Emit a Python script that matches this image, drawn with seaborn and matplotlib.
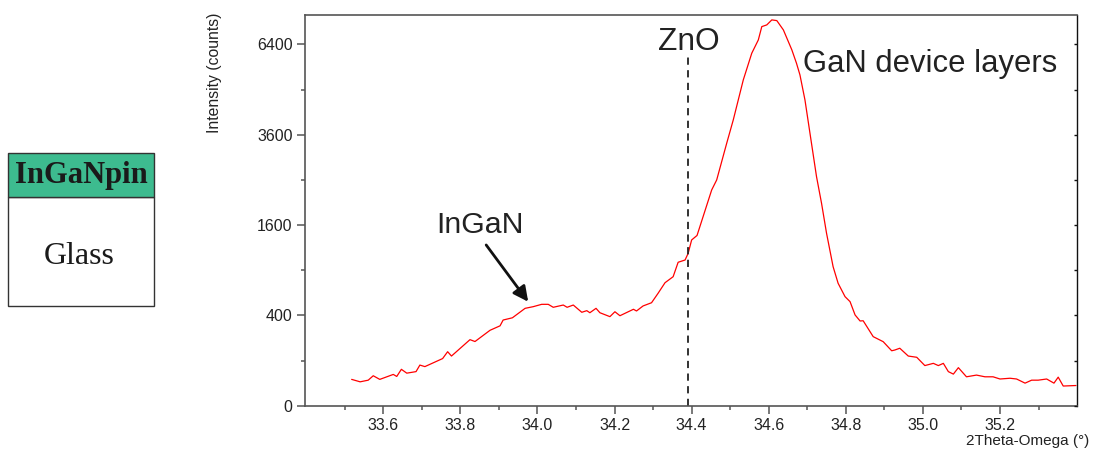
import numpy as np
import pandas as pd
import matplotlib
matplotlib.use("Agg")
import matplotlib.pyplot as plt
from matplotlib.patches import Rectangle
import seaborn as sns

# 2Theta-Omega scan (degrees) and measured intensity (counts)
two_theta = [
    33.518, 33.540, 33.561, 33.574, 33.591, 33.626, 33.635, 33.647, 33.661, 33.685,
    33.695, 33.708, 33.754, 33.767, 33.777, 33.825, 33.838, 33.857, 33.877, 33.903,
    33.911, 33.935, 33.968, 33.989, 34.011, 34.028, 34.041, 34.067, 34.077, 34.093,
    34.115, 34.128, 34.136, 34.152, 34.162, 34.188, 34.201, 34.214, 34.249, 34.257,
    34.274, 34.296, 34.313, 34.331, 34.352, 34.365, 34.383, 34.391, 34.400, 34.414,
    34.452, 34.465, 34.491, 34.508, 34.534, 34.556, 34.573, 34.582, 34.595, 34.608,
    34.621, 34.638, 34.660, 34.672, 34.681, 34.694, 34.707, 34.724, 34.737, 34.750,
    34.767, 34.780, 34.798, 34.811, 34.824, 34.837, 34.845, 34.871, 34.897, 34.919,
    34.927, 34.940, 34.962, 34.984, 35.005, 35.027, 35.040, 35.053, 35.066, 35.079,
    35.092, 35.113, 35.139, 35.161, 35.182, 35.200, 35.226, 35.243, 35.265, 35.282,
    35.299, 35.321, 35.340, 35.351, 35.364, 35.397,
]
intensity = [
    34, 28, 32, 44, 34, 48, 42, 65, 52, 57,
    81, 75, 109, 143, 121, 214, 202, 238, 279, 313,
    360, 379, 465, 481, 504, 504, 475, 497, 475, 497,
    428, 443, 424, 465, 424, 389, 433, 397, 456, 440,
    488, 520, 620, 742, 816, 1009, 1041, 1139, 1347, 1421,
    2282, 2499, 3378, 4004, 5204, 6092, 6560, 7046, 7110, 7298,
    7271, 6924, 6207, 5751, 5365, 4584, 3640, 2572, 2010, 1458,
    948, 735, 583, 531, 404, 352, 354, 234, 201, 148,
    152, 162, 121, 115, 79, 88, 79, 88, 57, 49,
    71, 41, 46, 41, 41, 35, 37, 35, 25, 32,
    32, 35, 25, 40, 19, 20,
]

y_ticks = [0, 400, 1600, 3600, 6400]
y_minor = [100, 900, 2500, 4900]
x_ticks = [33.6, 33.8, 34.0, 34.2, 34.4, 34.6, 34.8, 35.0, 35.2]
x_minor = [33.5, 33.7, 33.9, 34.1, 34.3, 34.5, 34.7, 34.9, 35.1, 35.3]
zno_position = 34.391

df = pd.DataFrame({"two_theta": two_theta, "intensity": intensity})

sns.set_style("white")
plt.rcParams.update({
    "font.family": ["Liberation Sans", "DejaVu Sans"],
    "xtick.bottom": True, "xtick.top": False,
    "ytick.left": True, "ytick.right": False,
    "xtick.direction": "out", "ytick.direction": "out",
    "xtick.major.size": 6, "ytick.major.size": 6,
    "xtick.minor.size": 3, "ytick.minor.size": 3,
    "xtick.major.width": 1.1, "ytick.major.width": 1.1,
    "xtick.minor.width": 1.1, "ytick.minor.width": 1.1,
    "xtick.color": "#555555", "ytick.color": "#555555",
    "xtick.labelcolor": "#222222", "ytick.labelcolor": "#222222",
    "xtick.labelsize": 11.5, "ytick.labelsize": 11.5,
    "xtick.major.pad": 3, "ytick.major.pad": 3,
})

fig = plt.figure(figsize=(10.94, 4.5), dpi=100)
ax = fig.add_axes([0.2788, 0.0984, 0.7054, 0.8683])

sns.lineplot(data=df, x="two_theta", y="intensity", ax=ax,
             color="#ff0000", linewidth=0.9)

sqrt_scale = (lambda v: np.sqrt(np.clip(v, 0, None)), lambda s: s ** 2)
ax.set_yscale("function", functions=sqrt_scale)
ax.set_xlim(33.397, 35.399)
ax.set_ylim(0, 7485)

ax.set_yticks(y_ticks)
ax.set_yticklabels([str(t) for t in y_ticks])
ax.set_yticks(y_minor, minor=True)
ax.set_xticks(x_ticks)
ax.set_xticklabels([f"{t:.1f}" for t in x_ticks])
ax.set_xticks(x_minor, minor=True)

# small inward ticks along the right frame
ax_r = ax.twinx()
ax_r.set_yscale("function", functions=sqrt_scale)
ax_r.set_ylim(ax.get_ylim())
ax_r.set_yticks(y_ticks + y_minor)
ax_r.tick_params(axis="y", which="both", left=False, right=True, direction="in",
                 length=2.5, width=1, color="#111111", labelright=False)
ax_r.grid(False)
for side in ["left", "bottom", "top", "right"]:
    ax_r.spines[side].set_visible(False)

for side in ["left", "bottom", "top"]:
    ax.spines[side].set_color("#555555")
    ax.spines[side].set_linewidth(1.2)
ax.spines["right"].set_color("#111111")
ax.spines["right"].set_linewidth(1.0)

ax.set_xlabel("")
ax.set_ylabel("Intensity (counts)", fontsize=11.3, color="#222222")
ax.yaxis.set_label_coords(-0.1076, 0.8516)
fig.text(0.9955, 0.004, "2Theta-Omega (°)", ha="right", va="bottom",
         fontsize=11, color="#222222")

# ZnO reference position
ax.plot([zno_position, zno_position], [0, 6033], color="#222222",
        linestyle=(0, (4, 3)), linewidth=1.3)
ax.text(zno_position + 0.002, 6206, "ZnO", ha="center", va="baseline",
        fontsize=22.8, color="#222222")
ax.text(34.688, 5473, "GaN device layers", ha="left", va="baseline",
        fontsize=22.3, color="#222222")
ax.text(33.851, 1459, "InGaN", ha="center", va="baseline",
        fontsize=21.8, color="#222222")
ax.annotate("", xy=(33.976, 530), xytext=(33.867, 1267),
            arrowprops=dict(arrowstyle="-|>,head_length=0.9,head_width=0.45",
                            color="#111111", lw=2, shrinkA=0, shrinkB=0))

# layer stack sketch
W, H = fig.get_size_inches() * fig.dpi
def fx(px):
    return px / W
def fy(py):
    return 1 - py / H

fig.patches.append(Rectangle((fx(8.3), fy(305.7)), fx(154.3) - fx(8.3),
                             fy(196.7) - fy(305.7), transform=fig.transFigure,
                             facecolor="white", edgecolor="#333333", lw=1.0))
fig.patches.append(Rectangle((fx(8.3), fy(196.7)), fx(154.3) - fx(8.3),
                             fy(152.7) - fy(196.7), transform=fig.transFigure,
                             facecolor="#3dbb8f", edgecolor="#333333", lw=1.0))
fig.text(fx(81.3), fy(175), "InGaNpin", ha="center", va="center",
         fontsize=22, fontweight="bold", family="Liberation Serif", color="#1a1a1a")
fig.text(fx(79), fy(257), "Glass", ha="center", va="center",
         fontsize=23, family="Liberation Serif", color="#1a1a1a")

fig.savefig("out.png", dpi=100, facecolor="white")
